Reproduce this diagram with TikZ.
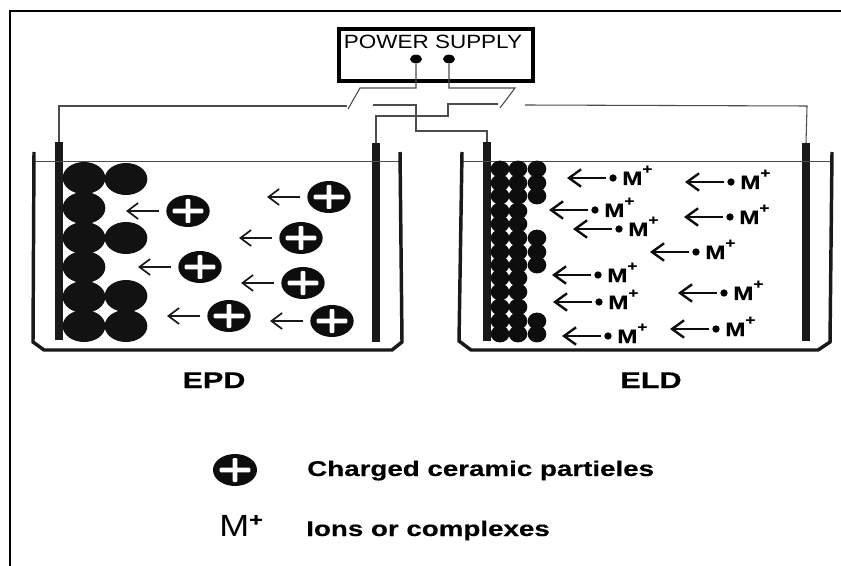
\documentclass[tikz,border=0pt]{standalone}
\usepackage{fontspec}
\setmainfont{Liberation Sans}
\newfontfamily\wideA[FakeStretch=1.17]{Liberation Sans}
\newfontfamily\wideB[FakeStretch=1.35,FakeBold=0.6]{Liberation Sans Bold}
\newfontfamily\wideM[FakeStretch=1.25,FakeBold=0.4]{Liberation Sans Bold}
\newfontfamily\wideL[FakeStretch=1.3,FakeBold=0.3]{Liberation Sans Bold}
\newfontfamily\wideR[FakeStretch=1.17]{Liberation Sans}
\usetikzlibrary{shapes.geometric,arrows.meta}
\newcommand{\fs}[1]{\fontsize{#1}{#1}\selectfont}
\tikzset{
  wire/.style={draw=black!70,line width=0.8pt},
  frameline/.style={draw=black,line width=0.9pt},
  beaker/.style={draw=black!90,line width=2.6pt,line join=miter},
  liquid/.style={draw=black!70,line width=0.6pt},
  electrode/.style={fill=black!90,draw=none},
  big/.style={ellipse,fill=black!93,draw=none,minimum width=32pt,minimum height=24pt,inner sep=0pt},
  small/.style={ellipse,fill=black!95,draw=none,minimum width=14pt,minimum height=12.6pt,inner sep=0pt},
  charged/.style={ellipse,fill=black!95,draw=none,minimum width=32.5pt,minimum height=24pt,inner sep=0pt},
  terminal/.style={ellipse,fill=black,draw=none,minimum width=9pt,minimum height=6.5pt,inner sep=0pt},
  iondot/.style={circle,fill=black,draw=none,minimum size=5.5pt,inner sep=0pt},
  flow/.style={draw=black!90,line width=1.5pt,-{Straight Barb[length=8pt,width=12pt,line width=1.3pt]}},
  ionflow/.style={draw=black!95,line width=1.8pt,-{Straight Barb[length=9pt,width=13pt,line width=1.8pt]}},
  supply/.style={draw=black,line width=2.8pt,inner sep=0pt},
}
\newcommand{\plusmark}[1]{%
  \fill[white,rounded corners=0.8pt] ([xshift=-11.5pt,yshift=-1.7pt]#1.center) rectangle ([xshift=11.5pt,yshift=1.7pt]#1.center);
  \fill[white,rounded corners=0.8pt] ([xshift=-1.8pt,yshift=-9pt]#1.center) rectangle ([xshift=1.8pt,yshift=9pt]#1.center);
}
\newcommand{\chargedat}[3]{%
  \node[charged] (#1) at (#2,#3) {};
  \plusmark{#1}
  \coordinate (#1tip) at ({#2-62},#3);
  \draw[flow,shorten <=5pt] (#1) -- (#1tip);
}
\newcommand{\ionat}[3]{%
  \node[iondot] (#1) at (#2,#3) {};
  \coordinate (#1tip) at ({#2-46},#3);
  \draw[ionflow,shorten <=2pt] (#1) -- (#1tip);
  \node[anchor=base west,inner sep=0pt] (#1text) at ({#2+9},{#3+7}) {\wideM\fs{14.5}M\raisebox{8.5pt}{\fs{10.3}+}};
}
\begin{document}
\begin{tikzpicture}[x=0.75pt,y=-0.75pt]
\useasboundingbox (0,0) rectangle (841,566);
\fill[white] (0,0) rectangle (841,566);
% frame
\coordinate (fa) at (10,566); \coordinate (fb) at (10,11); \coordinate (fc) at (841,11);
\draw[frameline] (fa) -- (fb) -- (fc);
% supply
\node[supply,anchor=north west,minimum width=145.5pt,minimum height=39pt] (ps) at (337,27) {};
\node[anchor=base,inner sep=0pt] (pslabel) at (433,49) {\wideA\fs{14.4}POWER SUPPLY};
\node[terminal] (t1) at (416,59) {};
\node[terminal] (t2) at (449,59) {};
% electrodes
\fill[electrode] (55,142) rectangle (63,340); \coordinate (e1) at (59,142);
\fill[electrode] (372,143) rectangle (380,342); \coordinate (e2) at (376,143);
\fill[electrode] (483,142) rectangle (491,341); \coordinate (e3) at (487,142);
\fill[electrode] (802,143) rectangle (810,341); \coordinate (e4) at (806,143);
% wires
\coordinate (s1) at (348,109); \coordinate (s2) at (360,88);
\coordinate (s3) at (500,108); \coordinate (s4) at (515,88);
\draw[wire] (e1) -- (59,106) -- (347,106);
\draw[wire] (s1) -- (s2) -- (416,88) -- (t1);
\draw[wire] (373,105) -- (416,105) -- (416,131) -- (487,131) -- (e3);
\draw[wire] (t2) -- (449,88) -- (s4) -- (s3);
\draw[wire] (e2) -- (376,116) -- (448,116) -- (448,104) -- (498,104);
\draw[wire] (525,105) -- (807,106) -- (e4);
% beakers
\draw[liquid] (33,161) -- (401,161);
\draw[liquid] (461,161) -- (831,161);
\draw[beaker] (34,152) -- (33,342) -- (44,350) -- (392,350) -- (402,342) -- (400,152);
\draw[beaker] (462,152) -- (459,341) -- (471,350) -- (818,350) -- (830,342) -- (832,152);
% EPD deposit
\foreach \n/\y in {a/178,b/208,c/238,d/267,e/297,f/326}{\node[big] (da\n) at (84,\y) {};}
\foreach \n/\y in {a/179,c/238,e/296,f/326}{\node[big] (db\n) at (126,\y) {};}
% charged particles
\chargedat{p1}{188}{211}
\chargedat{p2}{329}{197}
\chargedat{p3}{301}{238}
\chargedat{p4}{200}{267}
\chargedat{p5}{303}{283}
\chargedat{p6}{229}{316}
\chargedat{p7}{332}{321}
% ELD deposit
\foreach \n/\y in {a/169,b/183,c/196,d/211,e/224,f/238,g/252,h/265,i/278,j/292,k/307,l/321,m/334}{
  \node[small] (ea\n) at (500,\y) {};
  \node[small] (eb\n) at (518,\y) {};
}
\foreach \n/\y in {a/169,b/183,c/196,f/238,g/252,h/265,l/321,m/334}{\node[small] (ec\n) at (537,\y) {};}
% ions
\ionat{m1}{613}{178}
\ionat{m2}{731}{182}
\ionat{m3}{595}{210}
\ionat{m4}{730}{217}
\ionat{m5}{619}{229}
\ionat{m6}{696}{252}
\ionat{m7}{598}{275}
\ionat{m8}{724}{293}
\ionat{m9}{599}{302}
\ionat{m10}{716}{329}
\ionat{m11}{608}{336}
% titles
\node[anchor=base,inner sep=0pt] (epd) at (214,388) {\wideB\fs{17}EPD};
\node[anchor=base,inner sep=0pt] (eld) at (651,388) {\wideB\fs{17}ELD};
% legend
\node[charged,minimum width=33pt,minimum height=24pt] (lp) at (235,470) {};
\plusmark{lp}
\node[anchor=base west,inner sep=0pt] (lt1) at (307,476) {\wideL\fs{16}Charged ceramic partieles};
\node[anchor=base west,inner sep=0pt] (lm) at (219,536) {\wideR\fs{23}M\raisebox{7.4pt}{\wideM\fs{14}+}};
\node[anchor=base west,inner sep=0pt] (lt2) at (306,536) {\wideL\fs{16}Ions or complexes};
\end{tikzpicture}
\end{document}
